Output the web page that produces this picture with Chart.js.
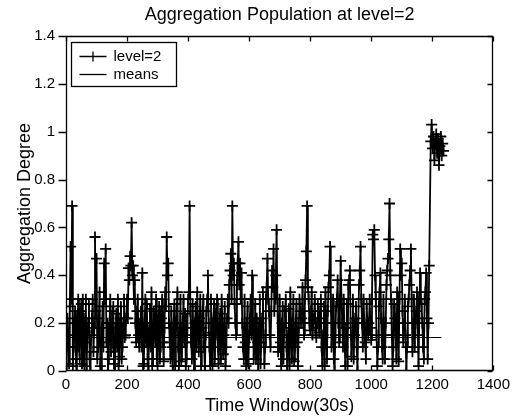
<!DOCTYPE html>
<html>
<head>
<meta charset="utf-8">
<script src="https://cdn.jsdelivr.net/npm/chart.js@4/dist/chart.umd.min.js"></script>
<style>
html,body{margin:0;padding:0;background:#fff;}
canvas{display:block;}
</style>
</head>
<body>
<canvas id="c" width="515" height="417"></canvas>
<script>
// ---- data ----
// main samples (every 5 time windows up to 1190, then the burst near 1200)
const level2X = [
  0,5,10,15,20,25,30,35,40,45,50,55,60,65,70,75,80,85,90,95,
  100,105,110,115,120,125,130,135,140,145,150,155,160,165,170,175,180,185,190,195,
  200,205,210,215,220,225,230,235,240,245,250,255,260,265,270,275,280,285,290,295,
  300,305,310,315,320,325,330,335,340,345,350,355,360,365,370,375,380,385,390,395,
  400,405,410,415,420,425,430,435,440,445,450,455,460,465,470,475,480,485,490,495,
  500,505,510,515,520,525,530,535,540,545,550,555,560,565,570,575,580,585,590,595,
  600,605,610,615,620,625,630,635,640,645,650,655,660,665,670,675,680,685,690,695,
  700,705,710,715,720,725,730,735,740,745,750,755,760,765,770,775,780,785,790,795,
  800,805,810,815,820,825,830,835,840,845,850,855,860,865,870,875,880,885,890,895,
  900,905,910,915,920,925,930,935,940,945,950,955,960,965,970,975,980,985,990,995,
  1000,1005,1010,1015,1020,1025,1030,1035,1040,1045,1050,1055,1060,1065,1070,1075,1080,1085,1090,1095,
  1100,1105,1110,1115,1120,1125,1130,1135,1140,1145,1150,1155,1160,1165,1170,1175,1180,1185,1190,
  1195,1198,1201,1204,1207,1210,1213,1216,1219,1222,1225,1228,1231,1234,1237
];
const level2Y = [
  0,0.22,0.03,0.52,0.69,0.1,0.25,0,0.3,0.05,0.28,0.3,0.02,0.3,0.15,0.28,0,0.22,0.08,0.56,
  0.47,0.1,0.33,0,0.27,0.45,0.51,0.2,0.05,0.3,0.12,0.27,0,0.24,0.3,0.06,0.27,0.1,0.3,0.15,
  0.3,0.43,0.48,0.62,0.44,0.38,0.12,0.3,0.1,0.25,0.41,0.03,0.3,0.28,0,0.26,0.33,0.05,0.2,0.3,
  0.02,0.27,0.1,0.3,0.04,0.33,0.56,0.45,0.12,0.25,0,0.28,0.18,0.33,0.02,0.3,0.1,0.3,0.24,0.05,
  0.3,0.69,0.12,0.28,0,0.27,0.33,0.08,0.3,0.18,0.3,0,0.25,0.4,0.1,0.3,0.02,0.28,0.15,0.3,
  0.03,0.24,0.3,0.07,0.27,0.1,0.3,0.36,0.49,0.69,0.45,0.2,0.36,0.54,0.45,0.41,0.1,0.3,0.02,0.27,
  0.15,0.3,0.4,0.05,0.28,0.22,0,0.3,0.12,0.33,0.03,0.3,0.47,0.25,0.1,0.42,0.51,0.3,0.59,0.08,
  0.3,0.02,0.27,0.18,0.3,0,0.26,0.33,0.05,0.3,0.1,0.28,0.02,0.3,0.2,0.35,0.15,0.38,0.69,0.3,
  0.17,0.33,0.2,0.3,0.14,0.28,0.16,0.3,0.02,0.27,0.33,0.05,0.35,0.52,0.1,0.3,0,0.27,0.38,0.12,
  0.46,0.2,0.3,0.02,0.28,0.36,0.42,0.06,0.3,0.15,0.27,0,0.36,0.52,0.2,0.3,0.12,0.28,0.15,0.3,
  0.13,0.57,0.59,0.3,0.02,0.27,0.41,0.1,0.3,0.05,0.36,0.47,0.7,0.3,0.02,0.28,0.15,0.33,0.04,0.51,
  0.45,0.12,0.3,0,0.27,0.36,0.51,0.08,0.3,0.2,0.33,0.02,0.41,0.28,0.1,0.3,0.41,0.05,0.44,
  0.96,1.03,0.93,0.98,0.88,0.95,0.99,0.91,0.97,0.86,0.94,0.98,0.9,0.95,0.92
];
// in-between samples (one between each pair of main samples from 0 to 1190)
const level2MidY = [
  0.1,0.15,0.27,0.3,0.02,0.2,0.05,0.18,0.1,0.25,0.03,0.12,0.22,0,0.2,0.05,0.15,0.3,0.18,0.25,
  0.05,0.22,0.02,0.18,0.1,0.3,0.12,0,0.2,0.08,0.25,0.03,0.18,0.1,0.02,0.22,0.05,0.2,0.14,0.22,
  0.22,0.38,0.44,0.4,0.3,0.2,0.25,0.15,0.2,0.1,0.02,0.2,0.12,0.05,0.18,0.1,0.02,0.25,0.12,0.05,
  0.2,0.05,0.22,0.12,0.18,0.27,0.4,0.2,0.05,0.1,0.2,0.02,0.25,0.1,0.15,0.04,0.2,0.12,0.02,0.18,
  0.33,0.25,0.05,0.15,0.2,0.1,0.18,0.22,0.02,0.25,0.1,0.15,0.3,0.2,0.02,0.16,0.2,0.05,0.22,0.1,
  0.18,0.05,0.2,0.15,0.02,0.22,0.2,0.42,0.3,0.4,0.28,0.15,0.45,0.36,0.3,0.2,0.05,0.12,0.2,0.03,
  0.22,0.15,0.2,0.1,0.05,0.12,0.2,0.03,0.22,0.15,0.1,0.35,0.3,0.15,0.25,0.35,0.25,0.4,0.3,0.1,
  0.12,0.2,0.05,0.25,0.1,0.15,0.02,0.2,0.18,0.04,0.2,0.12,0.18,0.25,0.22,0.2,0.3,0.5,0.35,0.2,
  0.25,0.15,0.22,0.18,0.2,0.22,0.25,0.1,0.15,0.02,0.2,0.25,0.4,0.3,0.2,0.05,0.15,0.3,0.2,0.3,
  0.3,0.1,0.15,0.18,0.02,0.38,0.2,0.15,0.05,0.22,0.1,0.2,0.42,0.3,0.1,0.2,0.05,0.2,0.2,0.18,
  0.3,0.55,0.4,0.15,0.1,0.33,0.22,0.05,0.15,0.2,0.42,0.55,0.4,0.15,0.1,0.22,0.05,0.2,0.3,0.4,
  0.25,0.2,0.15,0.1,0.3,0.42,0.3,0.2,0.1,0.25,0.15,0.22,0.3,0.2,0.05,0.33,0.22,0.2
];
const meansX = [0, 1230];
const meansY = [0.14, 0.14];
const xTicks = [0,200,400,600,800,1000,1200,1400];
const yTicks = [0,0.2,0.4,0.6,0.8,1,1.2,1.4];
const seriesNames = ['level=2','means'];
const titleText = 'Aggregation Population at level=2';
const xTitle = 'Time Window(30s)';
const yTitle = 'Aggregation Degree';

const FONT = "'Liberation Sans', Arial, Helvetica, sans-serif";

// merge main samples with the in-between samples (x of a mid sample = middle of its neighbours)
const level2Points = [];
level2X.forEach((x, i) => {
  level2Points.push({x: x, y: level2Y[i]});
  if (i < level2MidY.length) {
    level2Points.push({x: (x + level2X[i + 1]) / 2, y: level2MidY[i]});
  }
});

const framePlugin = {
  id: 'frame',
  afterDraw(chart) {
    const ctx = chart.ctx;
    const a = chart.chartArea;
    const xs = chart.scales.x, ys = chart.scales.y;
    ctx.save();
    ctx.strokeStyle = '#000';
    ctx.lineWidth = 1.3;
    const L = Math.round(a.left) + 0.5, R = Math.round(a.right) - 0.5;
    const T = Math.round(a.top) + 0.5, B = Math.round(a.bottom) - 0.5;
    ctx.beginPath();
    ctx.rect(L, T, R - L, B - T);
    ctx.stroke();
    ctx.beginPath();
    xTicks.forEach(v => {
      const px = Math.round(xs.getPixelForValue(v)) + 0.5;
      ctx.moveTo(px, T); ctx.lineTo(px, T + 5);
      ctx.moveTo(px, B); ctx.lineTo(px, B - 5);
    });
    yTicks.forEach(v => {
      const py = Math.round(ys.getPixelForValue(v)) + 0.5;
      ctx.moveTo(R, py); ctx.lineTo(R - 5, py);
      ctx.moveTo(L, py); ctx.lineTo(L - 8, py);
    });
    ctx.stroke();
    // legend
    const bx = L + 5, by = T + 6, bw = 105, bh = 44;
    ctx.fillStyle = '#fff';
    ctx.fillRect(bx, by, bw, bh);
    ctx.strokeRect(bx, by, bw, bh);
    ctx.font = '15px ' + FONT;
    ctx.fillStyle = '#000';
    ctx.textBaseline = 'middle';
    ctx.textAlign = 'left';
    const rows = [by + 13, by + 31];
    chart.data.datasets.forEach((ds, i) => {
      const y = Math.round(rows[i]) + 0.5;
      ctx.beginPath();
      ctx.moveTo(bx + 8, y); ctx.lineTo(bx + 35, y);
      if (i === 0) {
        ctx.moveTo(bx + 21.5, y - 5); ctx.lineTo(bx + 21.5, y + 5);
      }
      ctx.stroke();
      ctx.fillText(ds.label, bx + 42, rows[i] + 1);
    });
    ctx.restore();
  }
};

new Chart(document.getElementById('c'), {
  type: 'line',
  data: {
    datasets: [
      {
        label: seriesNames[0],
        data: level2Points,
        borderColor: '#000',
        backgroundColor: '#000',
        borderWidth: 1.8,
        pointStyle: 'cross',
        pointRadius: 5.5,
        pointBorderWidth: 1.8,
        pointBorderColor: '#000',
        tension: 0,
        fill: false
      },
      {
        label: seriesNames[1],
        data: meansX.map((x, i) => ({x: x, y: meansY[i]})),
        borderColor: '#000',
        borderWidth: 1.2,
        pointRadius: 0,
        tension: 0,
        fill: false
      }
    ]
  },
  options: {
    responsive: false,
    animation: false,
    devicePixelRatio: 1,
    layout: { padding: { left: 0, right: 19, top: 0, bottom: 0 } },
    plugins: {
      legend: { display: false },
      tooltip: { enabled: false },
      title: {
        display: true,
        text: titleText,
        color: '#000',
        fullSize: false,
        font: { family: FONT, size: 18, weight: 'normal' },
        padding: { top: 4, bottom: 10.4 }
      }
    },
    scales: {
      x: {
        type: 'linear',
        min: 0, max: 1400,
        afterFit(s) { s.height = 46; },
        afterBuildTicks(s) { s.ticks = xTicks.map(v => ({value: v})); },
        grid: { display: false, drawTicks: false },
        border: { display: false },
        ticks: {
          color: '#000',
          padding: 5,
          maxRotation: 0,
          autoSkip: false,
          font: { family: FONT, size: 15 },
          callback: v => String(v)
        },
        title: {
          display: true,
          text: xTitle,
          color: '#000',
          font: { family: FONT, size: 18 },
          padding: { top: 0, bottom: 0 }
        }
      },
      y: {
        type: 'linear',
        min: 0, max: 1.4,
        afterFit(s) { s.width = 66; },
        afterBuildTicks(s) { s.ticks = yTicks.map(v => ({value: v})); },
        grid: { display: false, drawTicks: false },
        border: { display: false },
        ticks: {
          color: '#000',
          padding: 11,
          autoSkip: false,
          font: { family: FONT, size: 15 },
          callback: v => String(Math.round(v * 10) / 10)
        },
        title: {
          display: true,
          text: yTitle,
          color: '#000',
          font: { family: FONT, size: 18 },
          padding: { top: 14, bottom: 0 }
        }
      }
    }
  },
  plugins: [framePlugin]
});
</script>
</body>
</html>
